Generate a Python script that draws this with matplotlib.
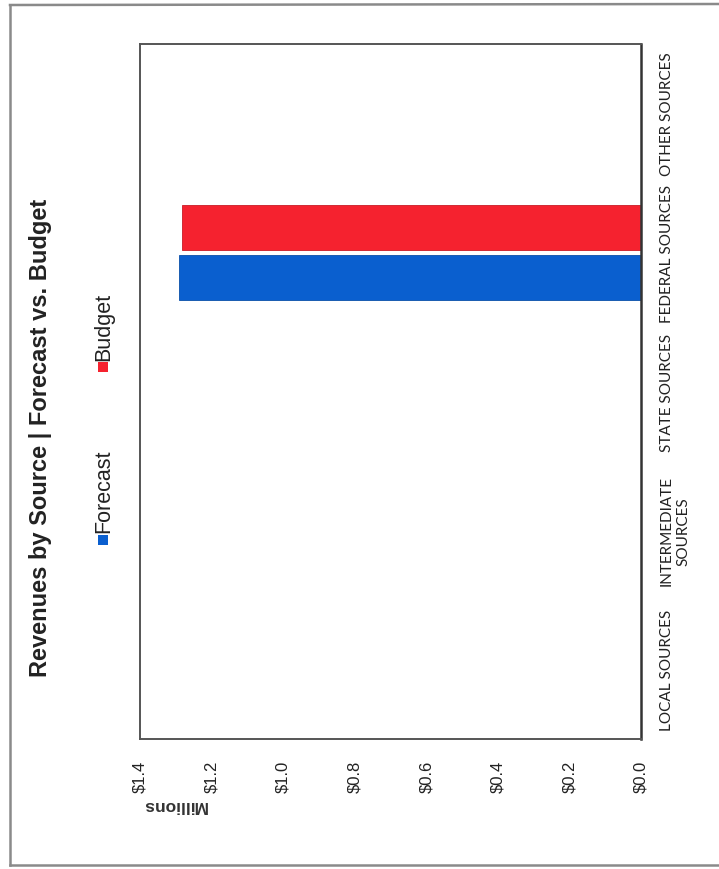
import matplotlib
matplotlib.use("Agg")
import matplotlib.pyplot as plt
from matplotlib.patches import Rectangle
from matplotlib.lines import Line2D
import numpy as np

# ---- data ----
categories = ["LOCAL SOURCES", "INTERMEDIATE\nSOURCES", "STATE SOURCES",
              "FEDERAL SOURCES", "OTHER SOURCES"]
forecast = [0.0, 0.0, 0.0, 1.29, 0.0]   # millions
budget = [0.0, 0.0, 0.0, 1.283, 0.0]    # millions
value_ticks = [0.0, 0.2, 0.4, 0.6, 0.8, 1.0, 1.2, 1.4]
value_tick_labels = ["$0.0", "$0.2", "$0.4", "$0.6", "$0.8", "$1.0", "$1.2", "$1.4"]
series_names = ["Forecast", "Budget"]
title = "Revenues by Source | Forecast vs. Budget"
unit_label = "Millions"

BLUE = "#0a5fcf"
RED = "#f5222f"

W, H = 719, 870
fig = plt.figure(figsize=(W / 100, H / 100), dpi=100)
fig.patch.set_facecolor("white")

def fx(px):
    return px / W

def fy(py):
    return 1 - py / H

# outer page frame (left, top, bottom; right side cut off)
frame_kw = dict(transform=fig.transFigure, color="#8a8a8a", linewidth=1.8)
fig.add_artist(Line2D([fx(10), fx(10)], [fy(6), fy(866)], **frame_kw))
fig.add_artist(Line2D([fx(10), 1.0], [fy(6), fy(5)], **frame_kw))
fig.add_artist(Line2D([fx(10), 1.0], [fy(866), fy(866)], **frame_kw))

left, right, top, bottom = 140, 641, 45, 740
ax = fig.add_axes([fx(left), fy(bottom), fx(right) - fx(left), fy(top) - fy(bottom)])

y = np.arange(len(categories))
h = 0.325
ax.barh(y - 0.18, forecast, height=h, color=BLUE, edgecolor="#0a4fa8", linewidth=0.6)
ax.barh(y + 0.18, budget, height=h, color=RED, edgecolor="#c81a25", linewidth=0.6)

ax.set_xlim(1.4, 0.0)
ax.set_ylim(-0.5, len(categories) - 0.5)

ax.set_xticks(value_ticks)
ax.set_xticklabels(value_tick_labels, rotation=90, fontsize=12,
                   family="Liberation Sans", color="#222222")
ax.tick_params(axis="x", length=0, pad=15)

ax.yaxis.tick_right()
ax.set_yticks(y)
ax.set_yticklabels(categories, rotation=90, fontsize=11, family="Lato",
                   color="#222222", multialignment="center", va="center",
                   linespacing=1.25)
ax.tick_params(axis="y", length=0, pad=13.5)

for s in ["left", "top", "bottom"]:
    ax.spines[s].set_color("#555555")
    ax.spines[s].set_linewidth(1.4)
ax.spines["right"].set_color("#333333")
ax.spines["right"].set_linewidth(1.8)

# title
fig.text(fx(41), fy(438), title, rotation=90, ha="center", va="center",
         fontsize=17, fontweight="bold", family="Liberation Sans", color="#222222")

# legend (rotated)
leg_x = 103
for name, color, sq_y, txt_y in [(series_names[0], BLUE, 541, 533),
                                 (series_names[1], RED, 368, 361)]:
    fig.add_artist(Rectangle((fx(leg_x - 5), fy(sq_y + 5)), fx(10), 10 / H,
                             transform=fig.transFigure, facecolor=color,
                             edgecolor="none"))
    fig.text(fx(leg_x + 1), fy(txt_y), name, rotation=90, ha="center", va="bottom",
             fontsize=15.5, family="Liberation Sans", color="#222222")

# unit label (upside down)
fig.text(fx(174), fy(806), unit_label, rotation=180, ha="center", va="center",
         fontsize=12.5, fontweight="bold", family="Liberation Sans", color="#333333")

fig.savefig("out.png", dpi=100)
